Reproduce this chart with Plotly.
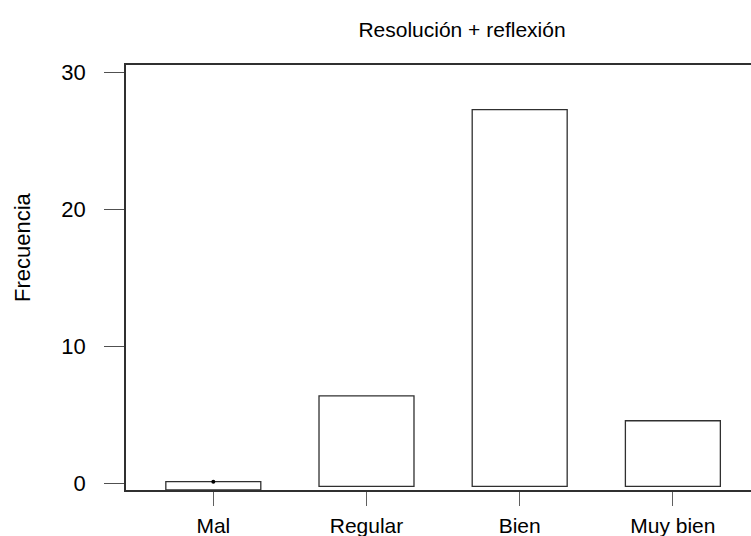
import plotly.graph_objects as go

# Data
categories = ["Mal", "Regular", "Bien", "Muy bien"]
bar_tops = [0.12, 6.39, 27.3, 4.57]
bar_bottoms = [-0.49, -0.22, -0.22, -0.22]
y_ticks = [0, 10, 20, 30]

font_name = "Liberation Sans, Arial, sans-serif"
line_col = "#303030"

fig = go.Figure()

fig.add_trace(
    go.Bar(
        x=categories,
        y=[t - b for t, b in zip(bar_tops, bar_bottoms)],
        base=bar_bottoms,
        width=0.62,
        marker=dict(color="white", line=dict(color=line_col, width=1.3)),
        showlegend=False,
    )
)

# small dot on top of the first bar
fig.add_trace(
    go.Scatter(
        x=categories[:1],
        y=bar_tops[:1],
        mode="markers",
        marker=dict(color="black", size=4),
        showlegend=False,
    )
)

fig.update_layout(
    width=751,
    height=536,
    margin=dict(l=126, r=0, t=65, b=46),
    plot_bgcolor="white",
    paper_bgcolor="white",
    font=dict(family=font_name, size=21, color="black"),
    title=dict(
        text="Resolución + reflexión",
        x=462 / 751,
        xanchor="center",
        y=1 - 30 / 536,
        yanchor="middle",
        font=dict(size=21),
    ),
    bargap=0.38,
)

fig.add_annotation(
    text="Frecuencia",
    textangle=-90,
    xref="paper",
    yref="paper",
    x=(22 - 126) / 625,
    y=(490 - 247) / 425,
    xanchor="center",
    yanchor="middle",
    showarrow=False,
    font=dict(size=22),
)

fig.update_xaxes(
    range=[-0.57, 3.51],
    showline=True,
    linecolor=line_col,
    linewidth=1.6,
    mirror=True,
    ticks="outside",
    ticklen=14,
    tickcolor="#606060",
    tickwidth=1.4,
    ticklabelstandoff=2,
    showgrid=False,
    zeroline=False,
    tickfont=dict(size=21),
)

fig.update_yaxes(
    range=[-0.49, 30.56],
    tickvals=y_ticks,
    showline=True,
    linecolor=line_col,
    linewidth=1.6,
    ticks="outside",
    ticklen=20,
    tickcolor="#505050",
    tickwidth=1.4,
    ticklabelstandoff=14,
    showgrid=False,
    zeroline=False,
    tickfont=dict(size=22),
)

fig.write_html(
    "out.html",
    config={"displayModeBar": False},
    post_script="document.body.style.margin='0';",
)
